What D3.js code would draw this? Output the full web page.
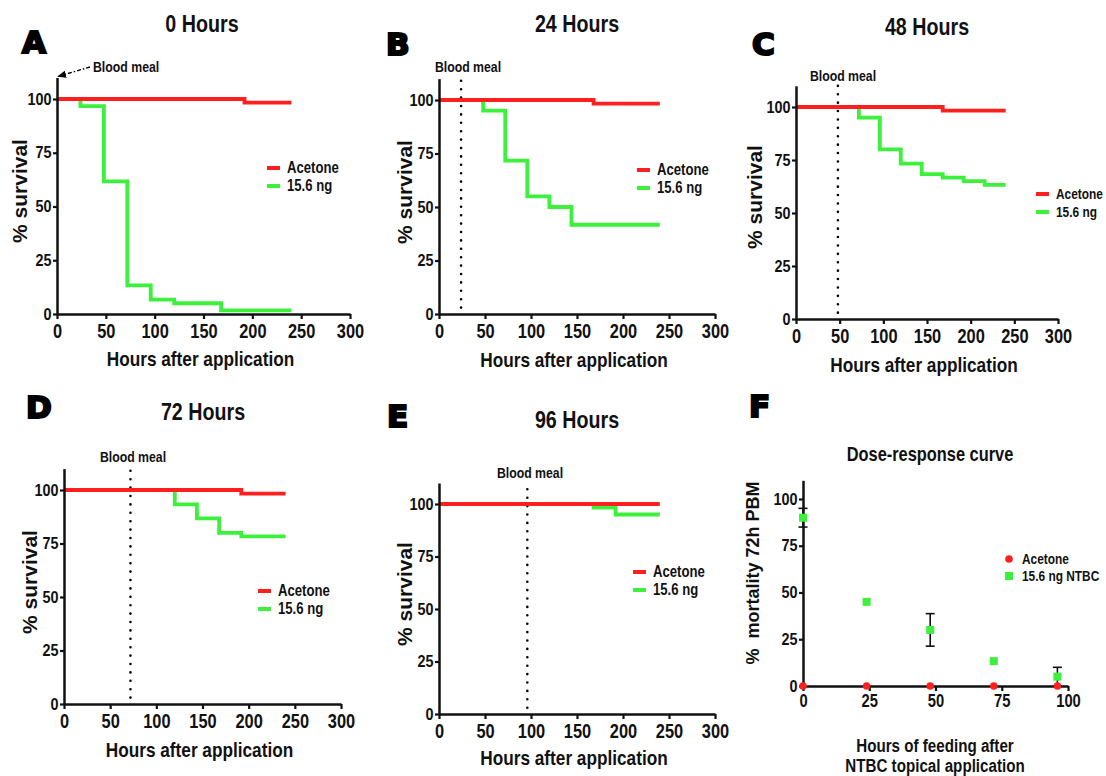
<!DOCTYPE html>
<html>
<head>
<meta charset="utf-8">
<script src="https://cdn.jsdelivr.net/npm/d3@7"></script>
<style>
  body { margin: 0; background: #fff; }
  svg { display: block; }
</style>
</head>
<body>
<svg id="fig" width="1106" height="776"></svg>
<script>
// ---- data ----
var hourTicks = [0, 50, 100, 150, 200, 250, 300];
var survivalTicks = [0, 25, 50, 75, 100];
var panelLetters = ["A", "B", "C", "D", "E"];
var panelTitles = ["0 Hours", "24 Hours", "48 Hours", "72 Hours", "96 Hours"];
var bloodMealHours = [0, 24, 48, 72, 96];
var legendNames = ["Acetone", "15.6 ng"];

// survival steps: [hours, % survival]
var acetone0h = [[0, 100], [192, 98.3], [240, 98.3]];
var ntbc0h = [[0, 100], [24, 96.7], [48, 61.7], [72, 13.3], [96, 6.7], [120, 5], [168, 1.7], [240, 1.7]];
var acetone24h = [[0, 100], [168, 98.3], [240, 98.3]];
var ntbc24h = [[0, 100], [48, 95], [72, 71.7], [96, 55], [120, 50], [144, 41.7], [240, 41.7]];
var acetone48h = [[0, 100], [168, 98.3], [240, 98.3]];
var ntbc48h = [[0, 100], [72, 95], [96, 80], [120, 73.3], [144, 68.3], [168, 66.7], [192, 65], [216, 63.3], [240, 63.3]];
var acetone72h = [[0, 100], [192, 98.3], [240, 98.3]];
var ntbc72h = [[0, 100], [120, 93.3], [144, 86.7], [168, 80], [192, 78.3], [240, 78.3]];
var acetone96h = [[0, 100], [240, 100]];
var ntbc96h = [[0, 100], [168, 98.3], [192, 95], [240, 95]];

// dose-response (panel F)
var feedHours = [0, 24, 48, 72, 96];
var acetoneMortality = [0, 0, 0, 0, 0];
var ntbcMortality = [90, 45, 30, 13.3, 5];
var ntbcError = [5, 0, 8.7, 0, 5];
var feedTicks = [0, 25, 50, 75, 100];
var mortalityTicks = [0, 25, 50, 75, 100];
var doseLegend = ["Acetone", "15.6 ng NTBC"];

// ---- styling ----
var RED = "#ff1f1f", GREEN = "#3cf03c";
var SANS = "'Liberation Sans', Arial, sans-serif";
var SQUEEZE = 0.82; // no narrow font installed, so squeeze Liberation Sans

var svg = d3.select("#fig");

// narrow-looking bold text
function narrowText(g, x, y, size, anchor, txt) {
  return g.append("text")
          .attr("transform", "translate(" + x + "," + y + ") scale(" + SQUEEZE + ",1)")
          .attr("text-anchor", anchor)
          .style("font-family", SANS).style("font-size", size + "px").style("font-weight", "bold")
          .attr("fill", "#111")
          .text(txt);
}

// placement of each survival panel (pixel box of the plot area)
var boxes = [
  {x0: 57,  x1: 350,  y0: 314, y100: 99,  title: [202, 32], letter: [22, 53],  xlab: 366, ylab: [27, 191],  bm: [93, 72],  leg: [267, 168], legSize: 16},
  {x0: 439, x1: 715,  y0: 314, y100: 100, title: [577, 32], letter: [386, 55], xlab: 367, ylab: [412, 192], bm: [468, 72], leg: [637, 170], legSize: 16},
  {x0: 796, x1: 1058, y0: 319, y100: 107, title: [927, 35], letter: [752, 55], xlab: 372, ylab: [762, 197], bm: [843, 81], leg: [1036, 194], legSize: 14.5},
  {x0: 64,  x1: 341,  y0: 704, y100: 490, title: [203, 420], letter: [26, 418], xlab: 757, ylab: [37, 582], bm: [133, 462], leg: [258, 591], legSize: 16},
  {x0: 439, x1: 715,  y0: 714, y100: 504, title: [577, 428], letter: [387, 427], xlab: 765, ylab: [412, 594], bm: [530, 478], leg: [633, 572], legSize: 16}
];
var seriesByPanel = [
  [acetone0h, ntbc0h], [acetone24h, ntbc24h], [acetone48h, ntbc48h],
  [acetone72h, ntbc72h], [acetone96h, ntbc96h]
];

// axis styling shared by all panels
function styleAxis(g, fontSize, squeeze) {
  g.select(".domain").attr("stroke", "#111").attr("stroke-width", 2.5);
  g.selectAll(".tick line").attr("stroke", "#111").attr("stroke-width", 2.2);
  g.selectAll(".tick text")
   .attr("fill", "#111")
   .attr("transform", "scale(" + squeeze + ",1)")
   .style("font-family", SANS)
   .style("font-size", fontSize + "px")
   .style("font-weight", "bold");
}

function drawLetter(pos, txt) {
  svg.append("text")
     .attr("x", pos[0]).attr("y", pos[1])
     .attr("font-family", "'DejaVu Sans', sans-serif")
     .attr("font-weight", "bold")
     .attr("font-size", 31)
     .attr("fill", "#000")
     .attr("stroke", "#000")
     .attr("stroke-width", 2.2)
     .text(txt);
}

function drawSurvivalPanel(i) {
  var b = boxes[i];
  var x = d3.scaleLinear().domain([0, 300]).range([b.x0, b.x1]);
  var yPer = (b.y0 - b.y100) / 100;
  var y = d3.scaleLinear().domain([0, 110]).range([b.y0, b.y0 - 110 * yPer]);

  var g = svg.append("g").attr("class", "panel_" + panelLetters[i]);

  // blood meal marker
  if (bloodMealHours[i] > 0) {
    g.append("line")
     .attr("x1", x(bloodMealHours[i])).attr("x2", x(bloodMealHours[i]))
     .attr("y1", y(3)).attr("y2", y(110))
     .attr("stroke", "#000").attr("stroke-width", 2.6)
     .attr("stroke-linecap", "round")
     .attr("stroke-dasharray", "0,8.4");
    narrowText(g, b.bm[0], b.bm[1], 15, "middle", "Blood meal");
  } else {
    // arrow pointing at start of the axis
    svg.append("defs").append("marker")
       .attr("id", "bm_arrow")
       .attr("viewBox", "0 -5 10 10")
       .attr("refX", 9).attr("refY", 0)
       .attr("orient", "auto")
       .attr("markerWidth", 9).attr("markerHeight", 9)
       .attr("markerUnits", "userSpaceOnUse")
       .append("path")
       .attr("d", "M0,-4 L10,0 L0,4 Z")
       .attr("fill", "#000");
    g.append("line")
     .attr("x1", b.bm[0] - 3).attr("y1", b.bm[1] - 5)
     .attr("x2", x(0) + 1).attr("y2", y(110) - 1)
     .attr("stroke", "#000").attr("stroke-width", 1.4)
     .attr("stroke-dasharray", "4,2,1.5,2")
     .attr("marker-end", "url(#bm_arrow)");
    narrowText(g, b.bm[0], b.bm[1], 15, "start", "Blood meal");
  }

  // survival curves: green first, red on top
  var line = d3.line()
               .x(function(d){ return x(d[0]); })
               .y(function(d){ return y(d[1]); })
               .curve(d3.curveStepAfter);
  var series = seriesByPanel[i];
  [1, 0].forEach(function(k){
    g.append("path")
     .datum(series[k])
     .attr("d", line)
     .attr("fill", "none")
     .attr("stroke", k == 0 ? RED : GREEN)
     .attr("stroke-width", 3.8);
  });

  // axes
  var xAxis = g.append("g")
               .attr("transform", "translate(0," + b.y0 + ")")
               .call(d3.axisBottom(x).tickValues(hourTicks).tickSize(5).tickSizeOuter(0).tickPadding(5));
  styleAxis(xAxis, 20, SQUEEZE);
  var yAxis = g.append("g")
               .attr("transform", "translate(" + b.x0 + ",0)")
               .call(d3.axisLeft(y).tickValues(survivalTicks).tickSize(4).tickSizeOuter(0).tickPadding(2));
  styleAxis(yAxis, 16, 0.9);

  // titles and labels
  narrowText(g, b.title[0], b.title[1], 24, "middle", panelTitles[i]);
  narrowText(g, (b.x0 + x(300)) / 2 - 3, b.xlab, 21, "middle", "Hours after application");
  g.append("text")
   .attr("transform", "translate(" + b.ylab[0] + "," + b.ylab[1] + ") rotate(-90)")
   .attr("text-anchor", "middle")
   .style("font-family", SANS).style("font-size", "21px").style("font-weight", "bold")
   .attr("fill", "#111")
   .text("% survival");

  // legend
  legendNames.forEach(function(name, k){
    var ly = b.leg[1] + k * 18;
    g.append("line")
     .attr("x1", b.leg[0]).attr("x2", b.leg[0] + 13)
     .attr("y1", ly).attr("y2", ly)
     .attr("stroke", k == 0 ? RED : GREEN).attr("stroke-width", 4);
    narrowText(g, b.leg[0] + 20, ly + 5, b.legSize, "start", name);
  });

  drawLetter(b.letter, panelLetters[i]);
}

for (var i = 0; i < 5; i++) drawSurvivalPanel(i);

// ---- panel F : dose-response ----
function drawDosePanel() {
  var x = d3.scaleLinear().domain([0, 100]).range([803, 1068]);
  var y = d3.scaleLinear().domain([0, 110]).range([686, 686 - 110 * 1.87]);
  var g = svg.append("g").attr("class", "panel_F");

  var xAxis = g.append("g")
               .attr("transform", "translate(0,686)")
               .call(d3.axisBottom(x).tickValues(feedTicks).tickSize(5).tickSizeOuter(0).tickPadding(3));
  styleAxis(xAxis, 18, SQUEEZE);
  var yAxis = g.append("g")
               .attr("transform", "translate(803,0)")
               .call(d3.axisLeft(y).tickValues(mortalityTicks).tickSize(4).tickSizeOuter(0).tickPadding(2));
  styleAxis(yAxis, 16, 0.9);

  // error bars
  feedHours.forEach(function(h, k){
    if (ntbcError[k] <= 0) return;
    var cx = x(h), top = y(ntbcMortality[k] + ntbcError[k]), bot = y(Math.max(0, ntbcMortality[k] - ntbcError[k]));
    g.append("line").attr("x1", cx).attr("x2", cx).attr("y1", top).attr("y2", bot)
     .attr("stroke", "#111").attr("stroke-width", 1.6);
    [top, bot].forEach(function(yy){
      g.append("line").attr("x1", cx - 4.5).attr("x2", cx + 4.5).attr("y1", yy).attr("y2", yy)
       .attr("stroke", "#111").attr("stroke-width", 1.6);
    });
  });

  g.selectAll(".dose_sq")
   .data(feedHours).enter()
   .append("rect")
   .attr("class", "dose_sq")
   .attr("x", function(d){ return x(d) - 4; })
   .attr("y", function(d, k){ return y(ntbcMortality[k]) - 4; })
   .attr("width", 8).attr("height", 8)
   .attr("fill", GREEN);

  g.selectAll(".dose_dot")
   .data(feedHours).enter()
   .append("circle")
   .attr("class", "dose_dot")
   .attr("cx", function(d){ return x(d); })
   .attr("cy", function(d, k){ return y(acetoneMortality[k]); })
   .attr("r", 3.8)
   .attr("fill", RED);

  narrowText(g, 930, 461, 20, "middle", "Dose-response curve");
  ["Hours of feeding after", "NTBC topical application"].forEach(function(t, k){
    narrowText(g, 935, 752 + k * 20, 18.5, "middle", t);
  });

  g.append("text")
   .attr("transform", "translate(759,573) rotate(-90)")
   .attr("text-anchor", "middle")
   .style("font-family", SANS).style("font-size", "18px").style("font-weight", "bold")
   .attr("fill", "#111")
   .style("white-space", "pre")
   .text("%  mortality 72h PBM");

  // legend
  g.append("circle").attr("cx", 1009).attr("cy", 559).attr("r", 3.8).attr("fill", RED);
  g.append("rect").attr("x", 1005).attr("y", 572).attr("width", 8).attr("height", 8).attr("fill", GREEN);
  doseLegend.forEach(function(t, k){
    narrowText(g, 1022, 564 + k * 17, 14.5, "start", t);
  });

  drawLetter([749, 417], "F");
}
drawDosePanel();
</script>
</body>
</html>
